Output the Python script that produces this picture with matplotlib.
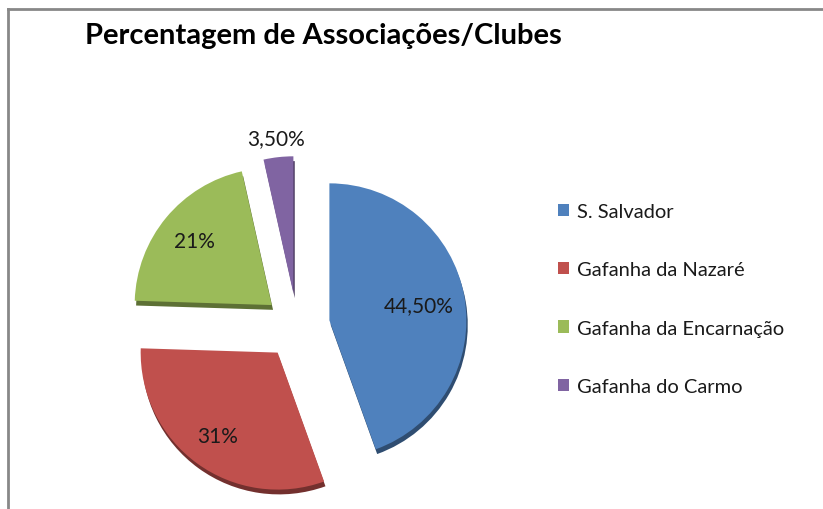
import matplotlib

matplotlib.use("Agg")
import matplotlib.pyplot as plt
import numpy as np
from matplotlib.patches import Wedge
from matplotlib.colors import to_rgb

plt.rcParams["font.family"] = ["Lato", "DejaVu Sans"]

# dados
regioes = ["S. Salvador", "Gafanha da Nazaré", "Gafanha da Encarnação", "Gafanha do Carmo"]
percentagens = [44.5, 31.0, 21.0, 3.5]
rotulos = ["44,50%", "31%", "21%", "3,50%"]
cores = ["#4F81BD", "#C0504D", "#9BBB59", "#8064A2"]
dist_rotulo = [0.66, 0.75, 0.73, 1.14]

W, H = 823, 510
fig = plt.figure(figsize=(W / 100, H / 100), dpi=100)

# eixos: raio 1 = 137 px, centro em (297, 327) px
r_px = 137.0
cx, cy = 297.0, H - 327
ax = fig.add_axes([(cx - 2 * r_px) / W, (cy - 1.3 * r_px) / H, 4 * r_px / W, 3 * r_px / H])

wedges, _ = ax.pie(percentagens, colors=cores, startangle=90, counterclock=False,
                   explode=[0.24] * 4, radius=1.0)

# efeito 3D: base mais escura ligeiramente deslocada
for w, c in zip(wedges, cores):
    dark = tuple(v * 0.6 for v in to_rgb(c))
    x0, y0 = w.center
    sh = Wedge((x0 + 0.01, y0 - 0.035), w.r, w.theta1, w.theta2, facecolor=dark,
               edgecolor="none", zorder=w.get_zorder() - 0.5)
    ax.add_patch(sh)

for w, lab, d in zip(wedges, rotulos, dist_rotulo):
    ang = np.deg2rad((w.theta1 + w.theta2) / 2)
    x0, y0 = w.center
    ax.text(x0 + d * np.cos(ang), y0 + d * np.sin(ang), lab, ha="center", va="center",
            fontsize=15, color="#1a1a1a")

ax.set_xlim(-2, 2)
ax.set_ylim(-1.3, 1.7)
ax.set_aspect("equal", adjustable="box")
ax.axis("off")

fig.text(85 / W, 1 - 36 / H, "Percentagem de Associações/Clubes", fontsize=21,
         fontweight="bold", ha="left", va="center", color="black")

fig.legend(wedges, regioes, loc="center left", bbox_to_anchor=(558 / W, 1 - 300 / H),
           frameon=False, fontsize=14.5, handlelength=0.55, handleheight=0.55,
           handletextpad=0.4, labelspacing=2.05, borderpad=0, borderaxespad=0,
           labelcolor="#1a1a1a")

# moldura cinzenta
fig.add_artist(plt.Line2D([8 / W, 8 / W], [0, 1 - 10 / H], color="#888888", lw=2))
fig.add_artist(plt.Line2D([8 / W, 1], [1 - 10 / H, 1 - 10 / H], color="#888888", lw=2))

fig.savefig("out.png", dpi=100)
plt.close(fig)
